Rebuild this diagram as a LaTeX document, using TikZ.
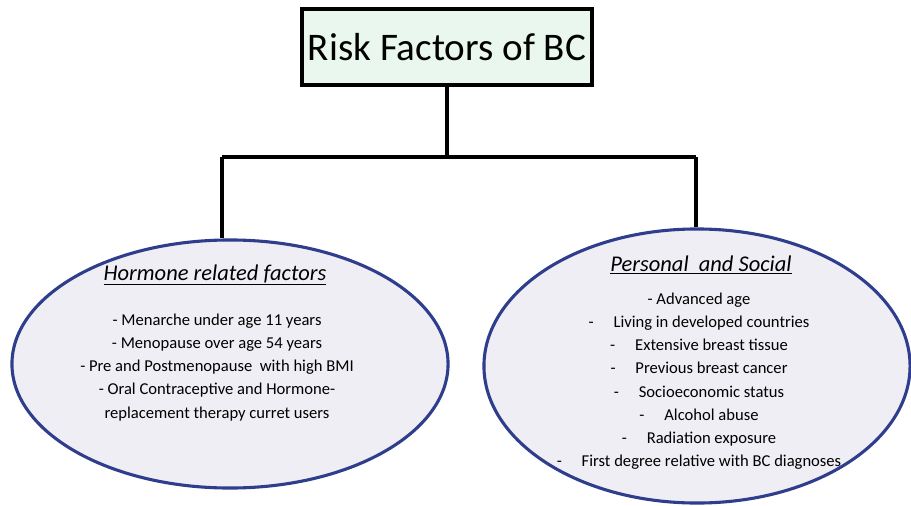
\documentclass[tikz,border=0pt]{standalone}
\usepackage{fontspec}
\setmainfont{Carlito}
\usetikzlibrary{shapes.geometric}
\definecolor{titlefill}{HTML}{E9F7EE}
\definecolor{ovalfill}{HTML}{EEEEF4}
\definecolor{ovalline}{HTML}{2E3D8C}
\tikzset{
  px/.style={x=0.025cm,y=-0.025cm},
  titlebox/.style={draw=black,line width=3pt,fill=titlefill,inner sep=0pt,
    minimum width=7.25cm,minimum height=1.9cm,font=\fontsize{27.8}{33}\selectfont},
  oval/.style={ellipse,draw=ovalline,line width=2.2pt,fill=ovalfill,inner sep=0pt},
  heading/.style={font=\fontsize{16}{19}\selectfont\itshape,inner sep=0pt},
  items/.style={align=center,inner sep=0pt,font=\fontsize{11.8}{16.4}\selectfont},
  link/.style={line width=2.3pt,black}
}
\begin{document}
\begin{tikzpicture}[px]
\useasboundingbox (0,0) rectangle (911,505);
% title
\node[titlebox] (title) at (447,47) {Risk Factors of BC};
% the two groups of factors
\node[oval,minimum width=10.9cm,minimum height=6.2cm] (left) at (230,364) {};
\node[oval,minimum width=10.65cm,minimum height=6.85cm] (right) at (697,366) {};
% tree connectors
\coordinate (jl) at (222,157);
\coordinate (jr) at (696,157);
\draw[link] (title.south) -- (title.south |- jl);
\draw[link] (jl) -- (jr);
\draw[link] (jl) -- (jl |- left.north);
\draw[link] (jr) -- (jr |- right.north);
% left group text
\node[heading] (lhead) at (215,275) {\underline{Hormone related factors}};
\node[items,anchor=north] (ltext) at (217,314) {%
- Menarche under age 11 years\\
- Menopause over age 54 years\\
- Pre and Postmenopause\ \ with high BMI\\
- Oral Contraceptive and Hormone-\\
replacement therapy curret users};
% right group text
\node[heading] (rhead) at (701,265) {\underline{Personal\ \ and Social}};
\node[items,anchor=north] (rtext) at (699,293) {%
- Advanced age\\
-\hspace{1.2em}Living in developed countries\\
-\hspace{1.2em}Extensive breast tissue\\
-\hspace{1.2em}Previous breast cancer\\
-\hspace{1.2em}Socioeconomic status\\
-\hspace{1.2em}Alcohol abuse\\
-\hspace{1.2em}Radiation exposure\\
-\hspace{1.2em}First degree relative with BC diagnoses};
\end{tikzpicture}
\end{document}
